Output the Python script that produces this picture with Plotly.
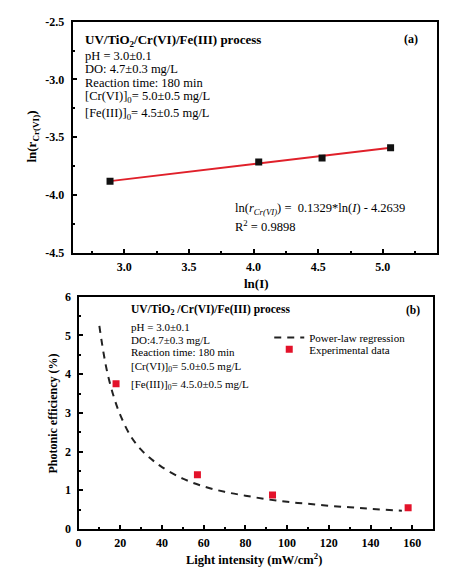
import plotly.graph_objects as go

# ---------- data ----------
ln_I = [2.89, 4.04, 4.53, 5.06]
ln_r = [-3.88, -3.715, -3.68, -3.59]
fit_x = [2.89, 5.06]
fit_y = [-3.879, -3.591]

light = [18, 57, 93, 158]
photonic = [3.75, 1.40, 0.88, 0.55]
curve_x = [10, 12, 14, 17, 20, 25, 30, 35, 40, 50, 60, 70, 80, 90, 100, 110, 120, 130, 140, 155]
curve_y = [5.25, 4.55, 4.0, 3.4, 2.95, 2.4, 2.05, 1.8, 1.6, 1.3, 1.1, 0.96, 0.86, 0.77, 0.70, 0.65, 0.60, 0.56, 0.52, 0.47]

W, H = 458, 574
def px(x): return x / W
def py(y): return 1 - y / H

FONT = "Liberation Serif"

fig = go.Figure()
fig.add_trace(go.Scatter(x=fit_x, y=fit_y, mode="lines", line=dict(color="#e0202a", width=1.8),
                         showlegend=False, xaxis="x", yaxis="y"))
fig.add_trace(go.Scatter(x=ln_I, y=ln_r, mode="markers", marker=dict(symbol="square", size=7, color="#111111"),
                         showlegend=False, xaxis="x", yaxis="y"))
fig.add_trace(go.Scatter(x=curve_x, y=curve_y, mode="lines", line=dict(color="#222222", width=2, dash="7px,6px", shape="spline"),
                         name="Power-law regression", xaxis="x2", yaxis="y2", legend="legend"))
fig.add_trace(go.Scatter(x=light, y=photonic, mode="markers", marker=dict(symbol="square", size=7, color="#e3122a"),
                         name="Experimental data", xaxis="x2", yaxis="y2", legend="legend2"))

axis_common = dict(showline=True, linewidth=2, linecolor="black", mirror=True, showgrid=False, zeroline=False,
                   ticks="inside", ticklen=4, tickwidth=1.5, tickcolor="black",
                   tickfont=dict(family=FONT, size=12, color="black", weight="bold"))

leg_common = dict(xanchor="left", yanchor="top", bgcolor="rgba(0,0,0,0)",
                  font=dict(family=FONT, size=11, color="black"), itemwidth=30)

fig.update_layout(
    width=W, height=H, margin=dict(l=0, r=0, t=0, b=0),
    paper_bgcolor="white", plot_bgcolor="white",
    xaxis=dict(domain=[px(70), px(437)], range=[2.6, 5.42], tickvals=[3.0, 3.5, 4.0, 4.5, 5.0],
               ticktext=["3.0", "3.5", "4.0", "4.5", "5.0"], anchor="y", ticklabelstandoff=2,
               minor=dict(dtick=0.25, tick0=0, ticks="inside", ticklen=2, tickcolor="black"), **axis_common),
    yaxis=dict(domain=[py(252), py(15)], range=[-4.5, -2.5], tickvals=[-4.5, -4.0, -3.5, -3.0, -2.5],
               ticktext=["-4.5", "-4.0", "-3.5", "-3.0", "-2.5"], anchor="x", ticklabelstandoff=4,
               minor=dict(dtick=0.25, tick0=0, ticks="inside", ticklen=2, tickcolor="black"), **axis_common),
    xaxis2=dict(domain=[px(76), px(433)], range=[0, 170], dtick=20, tick0=0, anchor="y2", ticklabelstandoff=2,
                minor=dict(dtick=10, tick0=0, ticks="inside", ticklen=2, tickcolor="black"), **axis_common),
    yaxis2=dict(domain=[py(535), py(297)], range=[0, 6], dtick=1, tick0=0, anchor="x2", ticklabelstandoff=3,
                minor=dict(dtick=0.5, tick0=0, ticks="inside", ticklen=2, tickcolor="black"), **axis_common),
    legend=dict(x=px(268), y=py(324), **leg_common),
    legend2=dict(x=px(268), y=py(336), **leg_common),
)

def txt(x, y, s, size=12, bold=False, xanchor="left", angle=0):
    fig.add_annotation(x=px(x), y=py(y), xref="paper", yref="paper", text=s, showarrow=False,
                       xanchor=xanchor, yanchor="middle", textangle=angle,
                       font=dict(family=FONT, size=size, color="black", weight="bold" if bold else "normal"))

# top panel texts
txt(81, 34, "UV/TiO<sub>2</sub>/Cr(VI)/Fe(III) process", 13, True)
txt(81, 50, "pH = 3.0±0.1", 12.5)
txt(81, 64, "DO: 4.7±0.3 mg/L", 12.5)
txt(81, 78, "Reaction time: 180 min", 12.5)
txt(81, 92, "[Cr(VI)]<sub>0</sub>= 5.0±0.5 mg/L", 12.5)
txt(81, 110, "[Fe(III)]<sub>0</sub>= 4.5±0.5 mg/L", 12.5)
txt(411, 33, "(a)", 12, True, xanchor="center")
txt(232, 207, "ln(<i>r</i><sub><i>Cr(VI)</i></sub>) =  0.1329*ln(<i>I</i>) - 4.2639", 12.5)
txt(232, 224, "R<sup>2</sup> = 0.9898", 12.5)
txt(255, 283, "ln(I)", 13, True, xanchor="center")
txt(30, 133, "ln(r<sub>Cr(VI)</sub>)", 13, True, xanchor="center", angle=-90)

# bottom panel texts
txt(127, 311, "UV/TiO<sub>2</sub> /Cr(VI)/Fe(III) process", 11.5, True)
txt(127, 328, "pH = 3.0±0.1", 11)
txt(127, 341, "DO:4.7±0.3 mg/L", 11)
txt(127, 354, "Reaction time: 180 min", 11)
txt(127, 369, "[Cr(VI)]<sub>0</sub>= 5.0±0.5 mg/L", 11)
txt(127, 387, "[Fe(III)]<sub>0</sub>= 4.5.0±0.5 mg/L", 11)
txt(413, 311, "(b)", 11.5, True, xanchor="center")
txt(253, 566, "Light intensity (mW/cm<sup>2</sup>)", 12.5, True, xanchor="center")
txt(50, 417, "Photonic efficiency (%)", 12, True, xanchor="center", angle=-90)

fig.write_html("out.html")
